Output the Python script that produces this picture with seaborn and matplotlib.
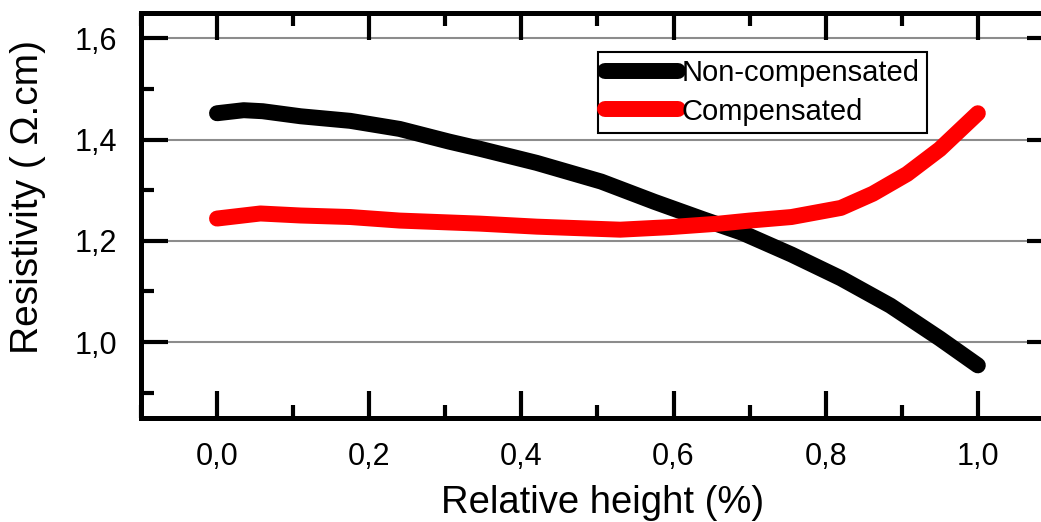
import numpy as np
import pandas as pd
import matplotlib
matplotlib.use("Agg")
import matplotlib.pyplot as plt
from matplotlib.ticker import MultipleLocator, FuncFormatter
from matplotlib.lines import Line2D
import seaborn as sns

# Resistivity (Ohm.cm) versus relative height along the ingot
height_nc = [0.0, 0.035, 0.06, 0.11, 0.175, 0.24, 0.305, 0.345, 0.42, 0.505,
             0.575, 0.64, 0.69, 0.755, 0.82, 0.885, 0.95, 1.0]
non_compensated = [1.452, 1.458, 1.456, 1.446, 1.437, 1.421, 1.396, 1.382, 1.354,
                   1.317, 1.277, 1.242, 1.216, 1.173, 1.126, 1.072, 1.007, 0.954]

height_c = [0.0, 0.057, 0.11, 0.175, 0.24, 0.345, 0.42, 0.53, 0.595, 0.66,
            0.70, 0.755, 0.82, 0.862, 0.907, 0.95, 1.0]
compensated = [1.244, 1.254, 1.250, 1.247, 1.240, 1.234, 1.228, 1.222, 1.227,
               1.234, 1.240, 1.247, 1.265, 1.293, 1.332, 1.381, 1.452]

series_names = ["Non-compensated", "Compensated"]
series_colors = ["#000000", "#ff0000"]

x_ticks = [0.0, 0.2, 0.4, 0.6, 0.8, 1.0]
y_ticks = [1.0, 1.2, 1.4, 1.6]

df = pd.DataFrame({
    "height": height_nc + height_c,
    "resistivity": non_compensated + compensated,
    "sample": [series_names[0]] * len(height_nc) + [series_names[1]] * len(height_c),
})

sns.set_theme(style="ticks")
plt.rcParams["font.family"] = ["Liberation Sans", "DejaVu Sans"]
plt.rcParams["text.color"] = "black"

fig = plt.figure(figsize=(10.41, 5.22), dpi=100)
ax = fig.add_axes([0.1354, 0.1992, 0.877, 0.7759])

# horizontal grid at major y ticks
for yv in y_ticks:
    ax.axhline(yv, color="#8c8c8c", lw=1.5, zorder=0.5)

sns.lineplot(data=df, x="height", y="resistivity", hue="sample",
             hue_order=series_names, palette=series_colors,
             linewidth=11.5, ax=ax, legend=False, sort=False,
             solid_capstyle="round", solid_joinstyle="round", zorder=3)

ax.set_xlim(-0.1, 1.1)
ax.set_ylim(0.85, 1.65)
ax.set_xticks(x_ticks)
ax.set_yticks(y_ticks)
ax.xaxis.set_minor_locator(MultipleLocator(0.1))
ax.yaxis.set_minor_locator(MultipleLocator(0.1))
comma = FuncFormatter(lambda v, p: f"{v:.1f}".replace(".", ","))
ax.xaxis.set_major_formatter(comma)
ax.yaxis.set_major_formatter(comma)

for s in ax.spines.values():
    s.set_linewidth(3.6)
    s.set_color("black")
    s.set_visible(True)

ax.tick_params(which="major", direction="in", length=19.5, width=3,
               top=True, right=True, labelsize=22, color="black",
               labelcolor="black")
ax.tick_params(axis="x", which="major", pad=17)
ax.tick_params(axis="y", which="major", pad=17)
ax.tick_params(which="minor", direction="in", length=9.6, width=3,
               top=True, right=True, color="black")

ax.set_xlabel("Relative height (%)", fontsize=27.5, color="black")
ax.set_ylabel("Resistivity ( \u03a9.cm)", fontsize=28, color="black")
ax.xaxis.set_label_coords(0.506, -0.165)
ax.yaxis.set_label_coords(-0.104, 0.546)

handles = [Line2D([0], [0], color=c, lw=11.5, solid_capstyle="round") for c in series_colors]
leg = ax.legend(handles, series_names, loc="upper left",
                bbox_to_anchor=(0.5005, 0.904), borderaxespad=0,
                fontsize=21, frameon=True, fancybox=False, shadow=False,
                handlelength=2.5, handletextpad=0.12, borderpad=0.26,
                labelspacing=0.35, labelcolor="black")
leg.get_frame().set_edgecolor("black")
leg.get_frame().set_linewidth(1.5)
leg.get_frame().set_alpha(1)

fig.savefig("out.png", dpi=100)
